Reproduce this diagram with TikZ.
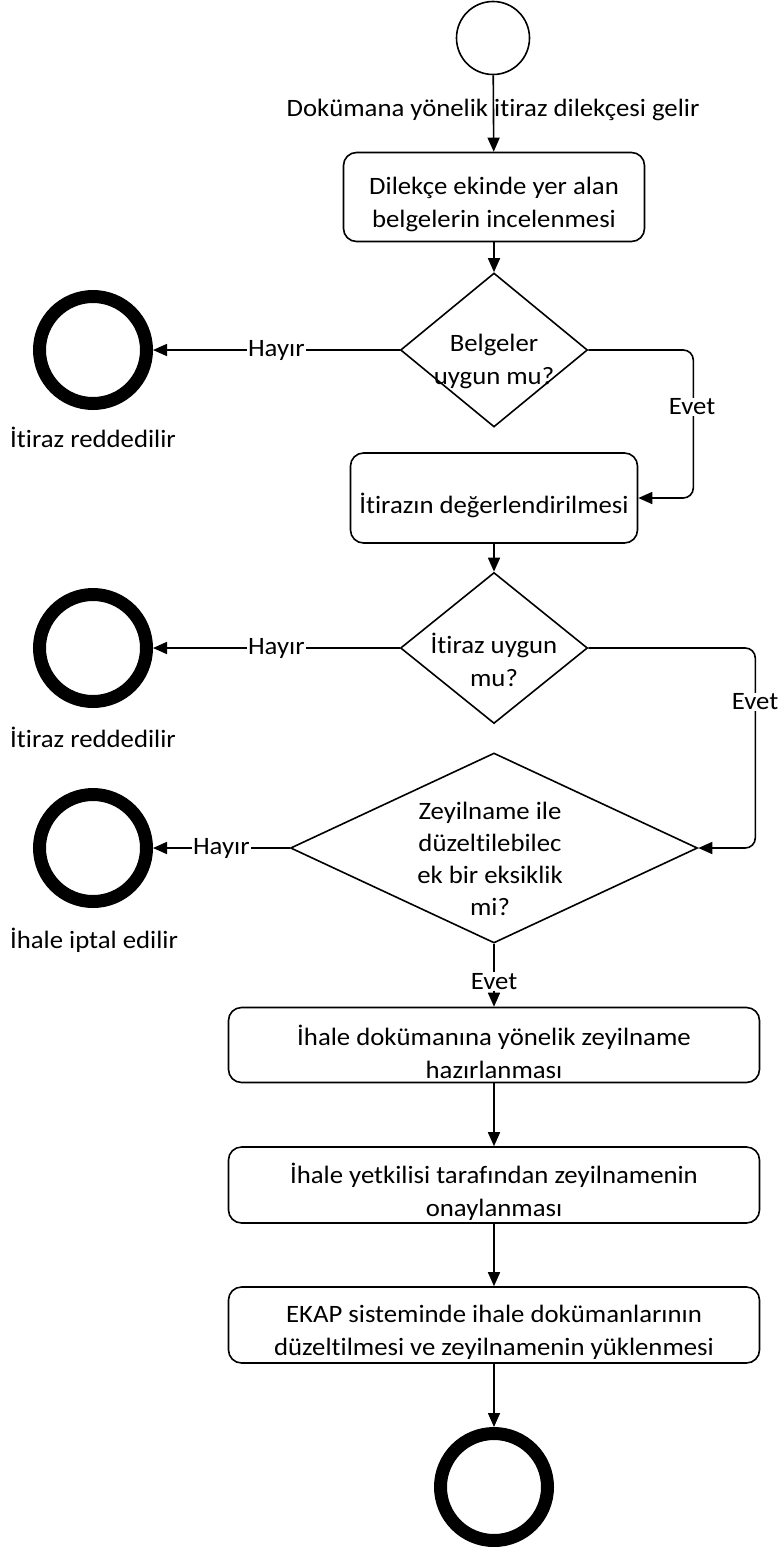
\documentclass[tikz,border=0pt]{standalone}
\usepackage{fontspec}
\setmainfont{Carlito}[FakeStretch=1.07, Ligatures=NoCommon]
\usetikzlibrary{shapes.geometric, arrows.meta}
\begin{document}
\begin{tikzpicture}[x=1pt,y=-1pt,
  font=\fontsize{25}{33}\selectfont,
  conn/.style={line width=1.6pt, -{Triangle[length=14pt,width=12pt]}},
  proc/.style={draw, line width=1.6pt, rounded corners=13pt, rectangle, inner sep=0pt},
  dec/.style={draw, line width=1.6pt, diamond, inner sep=0pt},
  startc/.style={draw, circle, line width=1.6pt, minimum size=73pt, inner sep=0pt},
  endc/.style={draw, circle, line width=13pt, minimum size=107pt, inner sep=0pt},
  lbl/.style={fill=white, inner sep=1pt},
  txt/.style={align=center, inner sep=0pt}]
\useasboundingbox (0,0) rectangle (783,1547);

% start
\node[startc] (start) at (493,38) {};
\node[txt] (lbl0) at (493,110) {Dokümana yönelik itiraz dilekçesi gelir};

% boxes
\node[proc, minimum width=301pt, minimum height=89pt] (box1) at (494,197) {};
\node[txt] (box1t) at (494,204) {Dilekçe ekinde yer alan\\belgelerin incelenmesi};
\node[proc, minimum width=287pt, minimum height=90pt] (box2) at (494,498) {};
\node[txt] (box2t) at (494,505) {İtirazın değerlendirilmesi};
\node[proc, minimum width=531pt, minimum height=75pt] (box3) at (494,1045) {};
\node[txt] (box3t) at (494,1052) {İhale dokümanına yönelik zeyilname\\hazırlanması};
\node[proc, minimum width=531pt, minimum height=76pt] (box4) at (494,1185) {};
\node[txt] (box4t) at (494,1192) {İhale yetkilisi tarafından zeyilnamenin\\onaylanması};
\node[proc, minimum width=531pt, minimum height=76pt] (box5) at (494,1325) {};
\node[txt] (box5t) at (494,1332) {EKAP sisteminde ihale dokümanlarının\\düzeltilmesi ve zeyilnamenin yüklenmesi};

% decisions
\node[dec, minimum width=187pt, minimum height=154pt] (d1) at (494,350) {};
\node[txt] (d1t) at (494,361) {Belgeler\\uygun mu?};
\node[dec, minimum width=187pt, minimum height=151pt] (d2) at (494,648) {};
\node[txt] (d2t) at (494,660) {İtiraz uygun\\mu?};
\node[dec, minimum width=407pt, minimum height=190pt] (d3) at (494,848) {};
\node[txt, font=\fontsize{25}{32}\selectfont] (d3t) at (490,859) {Zeyilname ile\\düzeltilebilec\\ek bir eksiklik\\mi?};

% end circles
\node[endc] (end1) at (93,350) {};
\node[txt] (end1t) at (93,437) {İtiraz reddedilir};
\node[endc] (end2) at (93,648) {};
\node[txt] (end2t) at (93,737) {İtiraz reddedilir};
\node[endc] (end3) at (93,848) {};
\node[txt] (end3t) at (94,940) {İhale iptal edilir};
\node[endc] (endB) at (494,1487) {};

% connectors
\draw[conn] (start) -- (box1);
\draw[conn] (box1) -- (d1);
\draw[conn] (d1.west) -- node[lbl] (h1) {Hayır} (end1);
\draw[conn, rounded corners=10pt] (d1.east) -- ++(105,0) coordinate (c1) |- (box2.east);
\node[lbl] (e1) at (692,407) {Evet};
\draw[conn] (box2) -- (d2);
\draw[conn] (d2.west) -- node[lbl] (h2) {Hayır} (end2);
\draw[conn, rounded corners=10pt] (d2.east) -- ++(167,0) coordinate (c2) |- (d3.east);
\node[lbl] (e2) at (755,702) {Evet};
\draw[conn] (d3.west) -- node[lbl] (h3) {Hayır} (end3);
\draw[conn] (d3.south) -- node[lbl, pos=0.6] (e3) {Evet} (box3.north);
\draw[conn] (box3) -- (box4);
\draw[conn] (box4) -- (box5);
\draw[conn] (box5) -- (endB);
\end{tikzpicture}
\end{document}
